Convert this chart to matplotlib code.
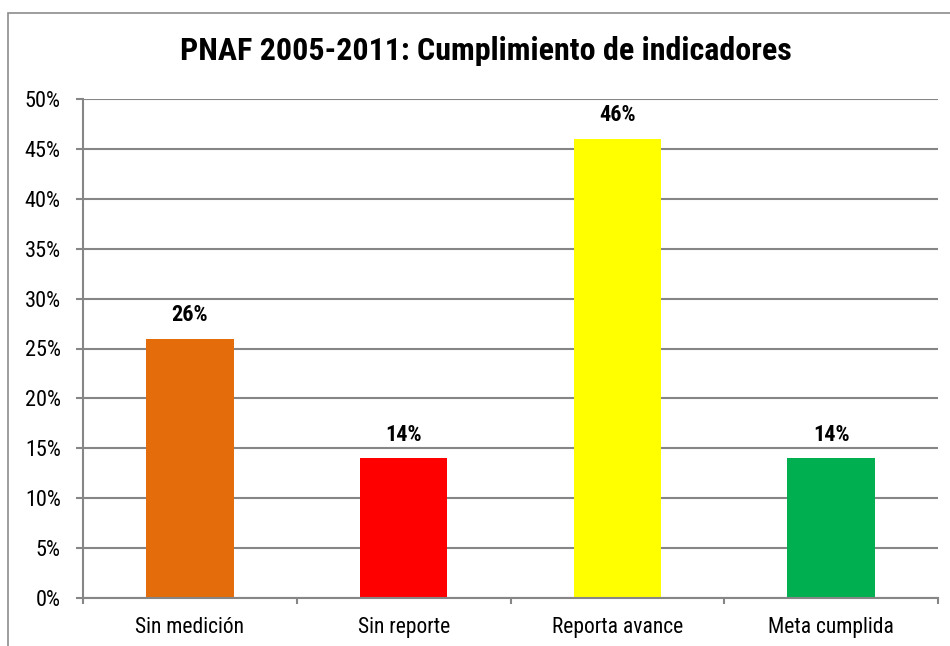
import matplotlib
matplotlib.use('Agg')
import matplotlib.pyplot as plt
from matplotlib import font_manager
from matplotlib.ticker import FuncFormatter, FixedLocator
from matplotlib.patches import Rectangle

# Datos del gráfico
categorias = ["Sin medición", "Sin reporte", "Reporta avance", "Meta cumplida"]
valores = [26, 14, 46, 14]
colores = ["#E46C0A", "#FF0000", "#FFFF00", "#00B050"]
titulo = "PNAF 2005-2011: Cumplimiento de indicadores"

# Buscar una fuente estrecha (tipo Arial Narrow) con negrita estática
candidatas = ['Liberation Sans Narrow', 'Arial Narrow', 'Roboto Condensed',
              'IBM Plex Sans Condensed', 'Asap Condensed']
fuente = 'Liberation Sans'
for c in candidatas:
    if any(f.name == c and f.weight in (700, 'bold') and '[' not in f.fname
           for f in font_manager.fontManager.ttflist):
        fuente = c
        break
plt.rcParams['font.family'] = [fuente, 'Liberation Sans', 'DejaVu Sans']
gris = "#868686"

fig = plt.figure(figsize=(9.5, 6.46), dpi=100)
W, H = 950, 646

# Marco del gráfico (solo se ven los bordes superior e izquierdo)
fig.patches.append(Rectangle((8 / W, -0.1), 1.2, (646 - 13) / H + 0.1,
                             transform=fig.transFigure, fill=False,
                             edgecolor="#8c8c8c", linewidth=1.2))

ax = fig.add_axes([83 / W, (646 - 598) / H, (938 - 83) / W, (598 - 99) / H])
x = range(len(categorias))
barras = ax.bar(x, valores, width=0.41, color=colores, zorder=2)
ax.bar_label(barras, labels=[f"{v}%" for v in valores], padding=9,
             fontsize=16, fontweight='bold')

ax.set_xlim(-0.5, len(categorias) - 0.5)
ax.set_ylim(0, 50)
ax.set_yticks(range(0, 51, 5))
ax.yaxis.set_major_formatter(FuncFormatter(lambda v, p: f"{v:.0f}%"))
ax.set_xticks(list(x))
ax.set_xticklabels(categorias)
ax.xaxis.set_minor_locator(FixedLocator([i - 0.5 for i in range(len(categorias) + 1)]))

ax.grid(axis='y', color=gris, linewidth=1.5, zorder=1)
ax.set_axisbelow(True)
for lado in ['top', 'right']:
    ax.spines[lado].set_visible(False)
for lado in ['left', 'bottom']:
    ax.spines[lado].set_color(gris)
    ax.spines[lado].set_linewidth(1.5)
    ax.spines[lado].set_zorder(3)

ax.tick_params(axis='y', length=5, width=1.5, color=gris, pad=11, labelsize=16)
ax.tick_params(axis='x', which='major', length=0, pad=14, labelsize=15.5)
ax.tick_params(axis='x', which='minor', length=4.5, width=1.5, color=gris)

fig.text(486 / W, 1 - 51 / H, titulo, ha='center', va='center',
         fontsize=23, fontweight='bold')

fig.savefig("out.png", dpi=100)
